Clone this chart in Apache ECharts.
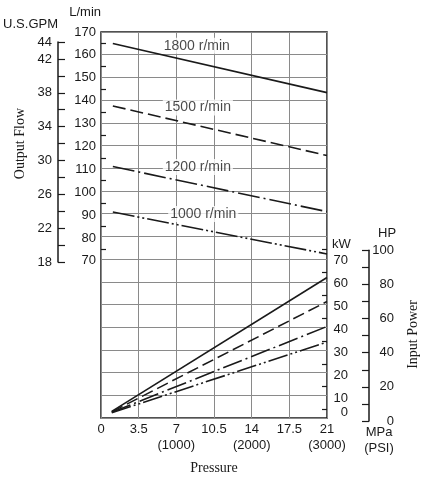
<!DOCTYPE html>
<html>
<head>
<meta charset="utf-8">
<script src="https://cdn.jsdelivr.net/npm/echarts@6/dist/echarts.min.js"></script>
<style>
html,body{margin:0;padding:0;background:#fff;}
#c{width:423px;height:480px;}
</style>
</head>
<body>
<div id="c"></div>
<script>
// ---- data ----
const rpmNames = ['1800 r/min', '1500 r/min', '1200 r/min', '1000 r/min'];
const flow1800 = [[1.1, 165], [21, 143.5]];
const flow1500 = [[1.1, 137.7], [21, 116]];
const flow1200 = [[1.1, 111.2], [21, 91.5]];
const flow1000 = [[1.1, 91.3], [21, 73]];
const power1800 = [[1, 4.2], [21, 62.7]];
const power1500 = [[1, 4.0], [21, 52.2]];
const power1200 = [[1, 3.8], [21, 41.3]];
const power1000 = [[1, 3.6], [21, 34.5]];
const psiAt = [7, 14, 21];
const psiLabels = ['(1000)', '(2000)', '(3000)'];
const gpmLabels = [44, 42, 38, 34, 30, 26, 22, 18];
const kwPerHp = 0.7457;

// ---- layout ----
const rpmLabelAt = [[8.9, 164], [9.0, 137], [9.0, 111], [9.5, 90.5]];
const P = { left: 101, right: 327, top: 32, bottom: 421 };
const k = (P.bottom - P.top) / 170;
const yPx = v => P.bottom - v * k;
const dashes = ['solid', [13, 5], [22, 4, 2, 4], [22, 3, 2, 3, 2, 3]];
const pdashes = ['solid', [12, 5], [20, 4, 2, 4], [20, 3, 2, 3, 2, 3]];
const sans = 'Liberation Sans, Arial, sans-serif';
const serif = 'Liberation Serif, Times New Roman, serif';
const ink = '#1a1a1a';
const gridGray = '#8a8a8a';

const chart = echarts.init(document.getElementById('c'), null, { renderer: 'canvas' });
const W = P.right - P.left;
const lbl = { fontSize: 13, fontFamily: sans, color: ink };

const grids = [
  { left: P.left, top: P.top, width: W, height: P.bottom - P.top, show: true, borderColor: ink, borderWidth: 1.5, backgroundColor: 'transparent' },
  { left: P.left, top: yPx(170), width: W, height: yPx(70) - yPx(170) },
  { left: P.left, top: yPx(70), width: W, height: P.bottom - yPx(70) },
  { left: 330, top: yPx(100 * kwPerHp), width: 39, height: P.bottom - yPx(100 * kwPerHp) },
  { left: 58, top: 42, width: 10, height: 220 },
  { left: P.left, top: yPx(165), width: W, height: yPx(75) - yPx(165) },
  { left: P.left, top: yPx(75), width: W, height: yPx(5) - yPx(75) }
];

const xAxes = [
  {
    gridIndex: 0, type: 'value', min: 0, max: 21, interval: 3.5,
    axisLine: { show: false }, axisTick: { show: false },
    splitLine: { show: true, lineStyle: { color: gridGray, width: 1 } },
    axisLabel: Object.assign({ margin: 3, lineHeight: 16,
      formatter: v => { const i = psiAt.indexOf(v); return i >= 0 ? v + '\n' + psiLabels[i] : String(v); } }, lbl),
    name: 'Pressure', nameLocation: 'middle', nameGap: 43,
    nameTextStyle: { fontFamily: serif, fontSize: 14, color: ink }
  },
  { gridIndex: 1, type: 'value', min: 0, max: 21, show: false },
  {
    gridIndex: 2, type: 'value', min: 0, max: 21,
    axisLine: { show: false }, axisTick: { show: false }, axisLabel: { show: false }, splitLine: { show: false },
    name: 'MPa\n(PSI)', nameLocation: 'end', nameGap: 52,
    nameTextStyle: { fontFamily: sans, fontSize: 13, color: ink, align: 'center', verticalAlign: 'top', lineHeight: 16, padding: [3, 0, 0, 0] }
  },
  { gridIndex: 3, type: 'value', min: 0, max: 1, show: false },
  { gridIndex: 4, type: 'value', min: 0, max: 1, show: false },
  { gridIndex: 5, type: 'value', min: 0, max: 1, show: false },
  { gridIndex: 6, type: 'value', min: 0, max: 1, show: false }
];

const tickOnly = (grid, min, max, pos) => ({
  gridIndex: grid, type: 'value', min: min, max: max, interval: 10, position: pos,
  axisLine: { show: true, onZero: false, lineStyle: { color: ink, opacity: 0 } },
  axisLabel: { show: false }, splitLine: { show: false },
  axisTick: { show: true, inside: true, length: 5, lineStyle: { color: ink, width: 1.2, opacity: 1 } }
});

const yAxes = [
  // 0: full-height grid lines
  { gridIndex: 0, type: 'value', min: 0, max: 170, interval: 10,
    axisLine: { show: false }, axisTick: { show: false }, axisLabel: { show: false },
    splitLine: { show: true, lineStyle: { color: gridGray, width: 1 } } },
  // 1: L/min
  { gridIndex: 1, type: 'value', min: 70, max: 170, interval: 10, position: 'left',
    axisLine: { show: false, onZero: false }, axisTick: { show: false }, splitLine: { show: false },
    axisLabel: Object.assign({ margin: 5 }, lbl),
    name: 'L/min', nameLocation: 'end', nameGap: 13,
    nameTextStyle: { fontFamily: sans, fontSize: 13, color: ink, align: 'right' } },
  // 2: kW
  { gridIndex: 2, type: 'value', min: 0, max: 70, interval: 10, position: 'right',
    axisLine: { show: false, onZero: false }, axisTick: { show: false }, splitLine: { show: false },
    axisLabel: Object.assign({ margin: 21, align: 'right',
      formatter: v => v === 0 ? '{z|0}' : String(v),
      rich: { z: { fontSize: 13, fontFamily: sans, color: ink, padding: [0, 0, 17, 0] } } }, lbl) },
  // 3: HP
  { gridIndex: 3, type: 'value', min: 0, max: 100, interval: 10, position: 'right',
    axisLine: { show: true, onZero: false, lineStyle: { color: ink, width: 1.5 } },
    axisTick: { show: true, inside: true, length: 7, lineStyle: { color: ink, width: 1.2 } },
    splitLine: { show: false },
    axisLabel: Object.assign({ margin: 25, align: 'right',
      formatter: v => v % 20 === 0 ? String(v) : '' }, lbl) },
  // 4: U.S.GPM
  { gridIndex: 4, type: 'value', min: 18, max: 44, interval: 2, position: 'left',
    axisLine: { show: true, onZero: false, lineStyle: { color: ink, width: 1.5 } },
    axisTick: { show: true, inside: true, length: 7, lineStyle: { color: ink, width: 1.2 } },
    splitLine: { show: false },
    axisLabel: Object.assign({ margin: 6,
      formatter: v => gpmLabels.indexOf(v) >= 0 ? String(v) : '' }, lbl),
    name: 'U.S.GPM', nameLocation: 'end', nameGap: 11,
    nameTextStyle: { fontFamily: sans, fontSize: 13, color: ink, align: 'right' } },
  // 5: L/min half-step ticks (inside, left)
  tickOnly(5, 75, 165, 'left'),
  // 6: kW half-step ticks (inside, right)
  tickOnly(6, 5, 75, 'right')
];

const flows = [flow1800, flow1500, flow1200, flow1000];
const powers = [power1800, power1500, power1200, power1000];
const series = [];
flows.forEach((d, i) => series.push({
  name: rpmNames[i] + ' flow', type: 'line', xAxisIndex: 1, yAxisIndex: 1, data: d,
  symbol: 'none', silent: true, animation: false, z: 3,
  lineStyle: { color: ink, width: 1.6, type: dashes[i] }
}));
powers.forEach((d, i) => series.push({
  name: rpmNames[i] + ' power', type: 'line', xAxisIndex: 2, yAxisIndex: 2, data: d,
  symbol: 'none', silent: true, animation: false, z: 3,
  lineStyle: { color: ink, width: 1.6, type: pdashes[i] }
}));
series.push({
  type: 'scatter', xAxisIndex: 1, yAxisIndex: 1, symbolSize: 0, silent: true, animation: false, z: 5,
  data: rpmLabelAt.map((p, i) => ({ value: p, name: rpmNames[i] })),
  label: { show: true, position: 'inside', formatter: p => p.name, fontFamily: sans, fontSize: 14, color: ink,
    backgroundColor: '#fff', padding: [1, 2] }
});

chart.setOption({
  animation: false,
  backgroundColor: '#fff',
  grid: grids, xAxis: xAxes, yAxis: yAxes, series: series,
  graphic: [
    { type: 'text', left: 13, top: 108, rotation: Math.PI / 2,
      style: { text: 'Output Flow', fontFamily: serif, fontSize: 14, fill: ink } },
    { type: 'text', left: 406, top: 300, rotation: Math.PI / 2,
      style: { text: 'Input Power', fontFamily: serif, fontSize: 14, fill: ink } },
    { type: 'text', left: 332, top: 238,
      style: { text: 'kW', fontFamily: sans, fontSize: 13, fill: ink } },
    { type: 'text', left: 378, top: 227,
      style: { text: 'HP', fontFamily: sans, fontSize: 13, fill: ink } }
  ]
});
</script>
</body>
</html>
